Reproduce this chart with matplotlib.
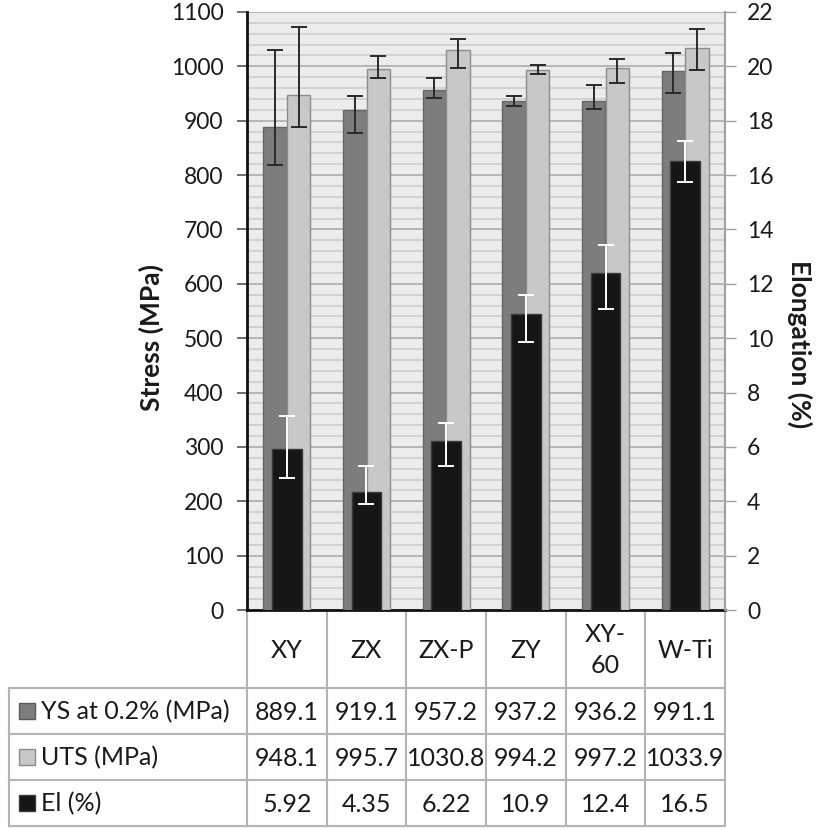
import numpy as np
import matplotlib.pyplot as plt
from matplotlib.ticker import MultipleLocator
from matplotlib.patches import Rectangle

plt.rcParams['font.family'] = ['Lato', 'DejaVu Sans']

# data
categories = ['XY', 'ZX', 'ZX-P', 'ZY', 'XY-\n60', 'W-Ti']
ys = [889.1, 919.1, 957.2, 937.2, 936.2, 991.1]
uts = [948.1, 995.7, 1030.8, 994.2, 997.2, 1033.9]
el = [5.92, 4.35, 6.22, 10.9, 12.4, 16.5]
# error bars are not symmetric in the source: (below, above)
ys_err_lo = [70, 42, 15, 11, 14, 40]
ys_err_hi = [141, 27, 21, 9, 30, 33]
uts_err_lo = [60, 18, 33, 9, 28, 41]
uts_err_hi = [124, 23, 19, 8, 17, 35]
el_err_lo = [1.05, 0.44, 0.91, 1.03, 1.34, 0.74]
el_err_hi = [1.23, 0.94, 0.67, 0.69, 1.03, 0.77]
ys_txt = ['889.1', '919.1', '957.2', '937.2', '936.2', '991.1']
uts_txt = ['948.1', '995.7', '1030.8', '994.2', '997.2', '1033.9']
el_txt = ['5.92', '4.35', '6.22', '10.9', '12.4', '16.5']
row_names = ['YS at 0.2% (MPa)', 'UTS (MPa)', 'El (%)']

c_ys, c_uts, c_el = '#7d7d7d', '#c8c8c8', '#161616'
txt_c = '#1a1a1a'

W, H = 817, 830
fig = plt.figure(figsize=(W / 100, H / 100), dpi=100)

# plot area in pixels
L, R, T, B = 247, 725, 12, 610
ax = fig.add_axes([L / W, 1 - B / H, (R - L) / W, (B - T) / H])
ax2 = ax.twinx()

x = np.arange(len(categories))
bw = 0.295
ax.set_facecolor('#ececec')
ax.bar(x - bw / 2, ys, bw, color=c_ys, edgecolor='#666666', lw=1, zorder=3)
ax.bar(x + bw / 2, uts, bw, color=c_uts, edgecolor='#8c8c8c', lw=1, zorder=3)
eb = dict(fmt='none', elinewidth=1.4, capsize=5.5, capthick=1.4, zorder=4)
ax.errorbar(x - bw / 2, ys, yerr=[ys_err_lo, ys_err_hi], ecolor='#2a2a2a', **eb)
ax.errorbar(x + bw / 2, uts, yerr=[uts_err_lo, uts_err_hi], ecolor='#2a2a2a', **eb)

ax2.bar(x, el, 0.376, color=c_el, edgecolor='#3a3a3a', lw=1, zorder=3)
ax2.errorbar(x, el, yerr=[el_err_lo, el_err_hi], ecolor='white', **eb)

ax.set_xlim(-0.5, len(categories) - 0.5)
ax.set_ylim(0, 1100)
ax2.set_ylim(0, 22)
ax.yaxis.set_major_locator(MultipleLocator(100))
ax.yaxis.set_minor_locator(MultipleLocator(20))
ax2.yaxis.set_major_locator(MultipleLocator(2))
ax.grid(which='minor', axis='y', color='#d0d0d0', lw=1.3, zorder=0)
ax.grid(which='major', axis='y', color='#b2b2b2', lw=1.3, zorder=0)
ax.set_axisbelow(True)
ax.set_xticks([])
ax2.set_xticks([])

ax.tick_params(axis='y', which='major', length=7, width=1.2, color='#555555',
               labelsize=16.5, pad=10, labelcolor=txt_c)
ax.tick_params(axis='y', which='minor', length=0)
ax2.tick_params(axis='y', length=8, width=1, color='#a0a0a0',
                labelsize=16.5, pad=8, labelcolor=txt_c)

for a in (ax, ax2):
    a.spines['top'].set_visible(False)
ax.spines['left'].set_linewidth(2)
ax.spines['left'].set_color('#111111')
ax.spines['bottom'].set_linewidth(2)
ax.spines['bottom'].set_color('#111111')
ax.spines['right'].set_visible(False)
ax2.spines['left'].set_visible(False)
ax2.spines['bottom'].set_visible(False)
ax2.spines['right'].set_color('#a0a0a0')
ax2.spines['right'].set_linewidth(1.5)

fig.text(151 / W, 1 - 337 / H, 'Stress (MPa)', rotation=90, ha='center',
         va='center', fontsize=19, fontweight='bold', color=txt_c)
fig.text(800 / W, 1 - 344 / H, 'Elongation (%)', rotation=-90, ha='center',
         va='center', fontsize=19, fontweight='bold', color=txt_c)

# data table drawn in pixel coordinates
tax = fig.add_axes([0, 0, 1, 1], zorder=-1)
tax.set_xlim(0, W)
tax.set_ylim(H, 0)
tax.axis('off')
lc = '#b4b4b4'
n = len(categories)
cw = (R - L) / n
xs = [L + k * cw for k in range(n + 1)]
rows_y = [688, 734, 780, 826]
left = 9
for xv in xs:
    tax.plot([xv, xv], [B, rows_y[-1]], color=lc, lw=1.5)
tax.plot([left, left], [rows_y[0], rows_y[-1]], color=lc, lw=1.5)
for yv in rows_y:
    tax.plot([left, R], [yv, yv], color=lc, lw=1.5)

for k, cat in enumerate(categories):
    tax.text(L + (k + 0.5) * cw, (B + rows_y[0]) / 2 + 1, cat, ha='center',
             va='center', fontsize=18, color=txt_c, linespacing=1.4)

cols = [c_ys, c_uts, c_el]
edges = ['#5a5a5a', '#8c8c8c', '#3a3a3a']
for r, (name, vals) in enumerate(zip(row_names, [ys_txt, uts_txt, el_txt])):
    yc = (rows_y[r] + rows_y[r + 1]) / 2
    tax.add_patch(Rectangle((19, yc - 8), 16, 16, facecolor=cols[r],
                            edgecolor=edges[r], lw=1))
    tax.text(41, yc + 1, name, ha='left', va='center', fontsize=18,
             color=txt_c)
    for k, v in enumerate(vals):
        tax.text(L + (k + 0.5) * cw, yc + 1, v, ha='center', va='center',
                 fontsize=18, color=txt_c)

fig.savefig('out.png', dpi=100)
